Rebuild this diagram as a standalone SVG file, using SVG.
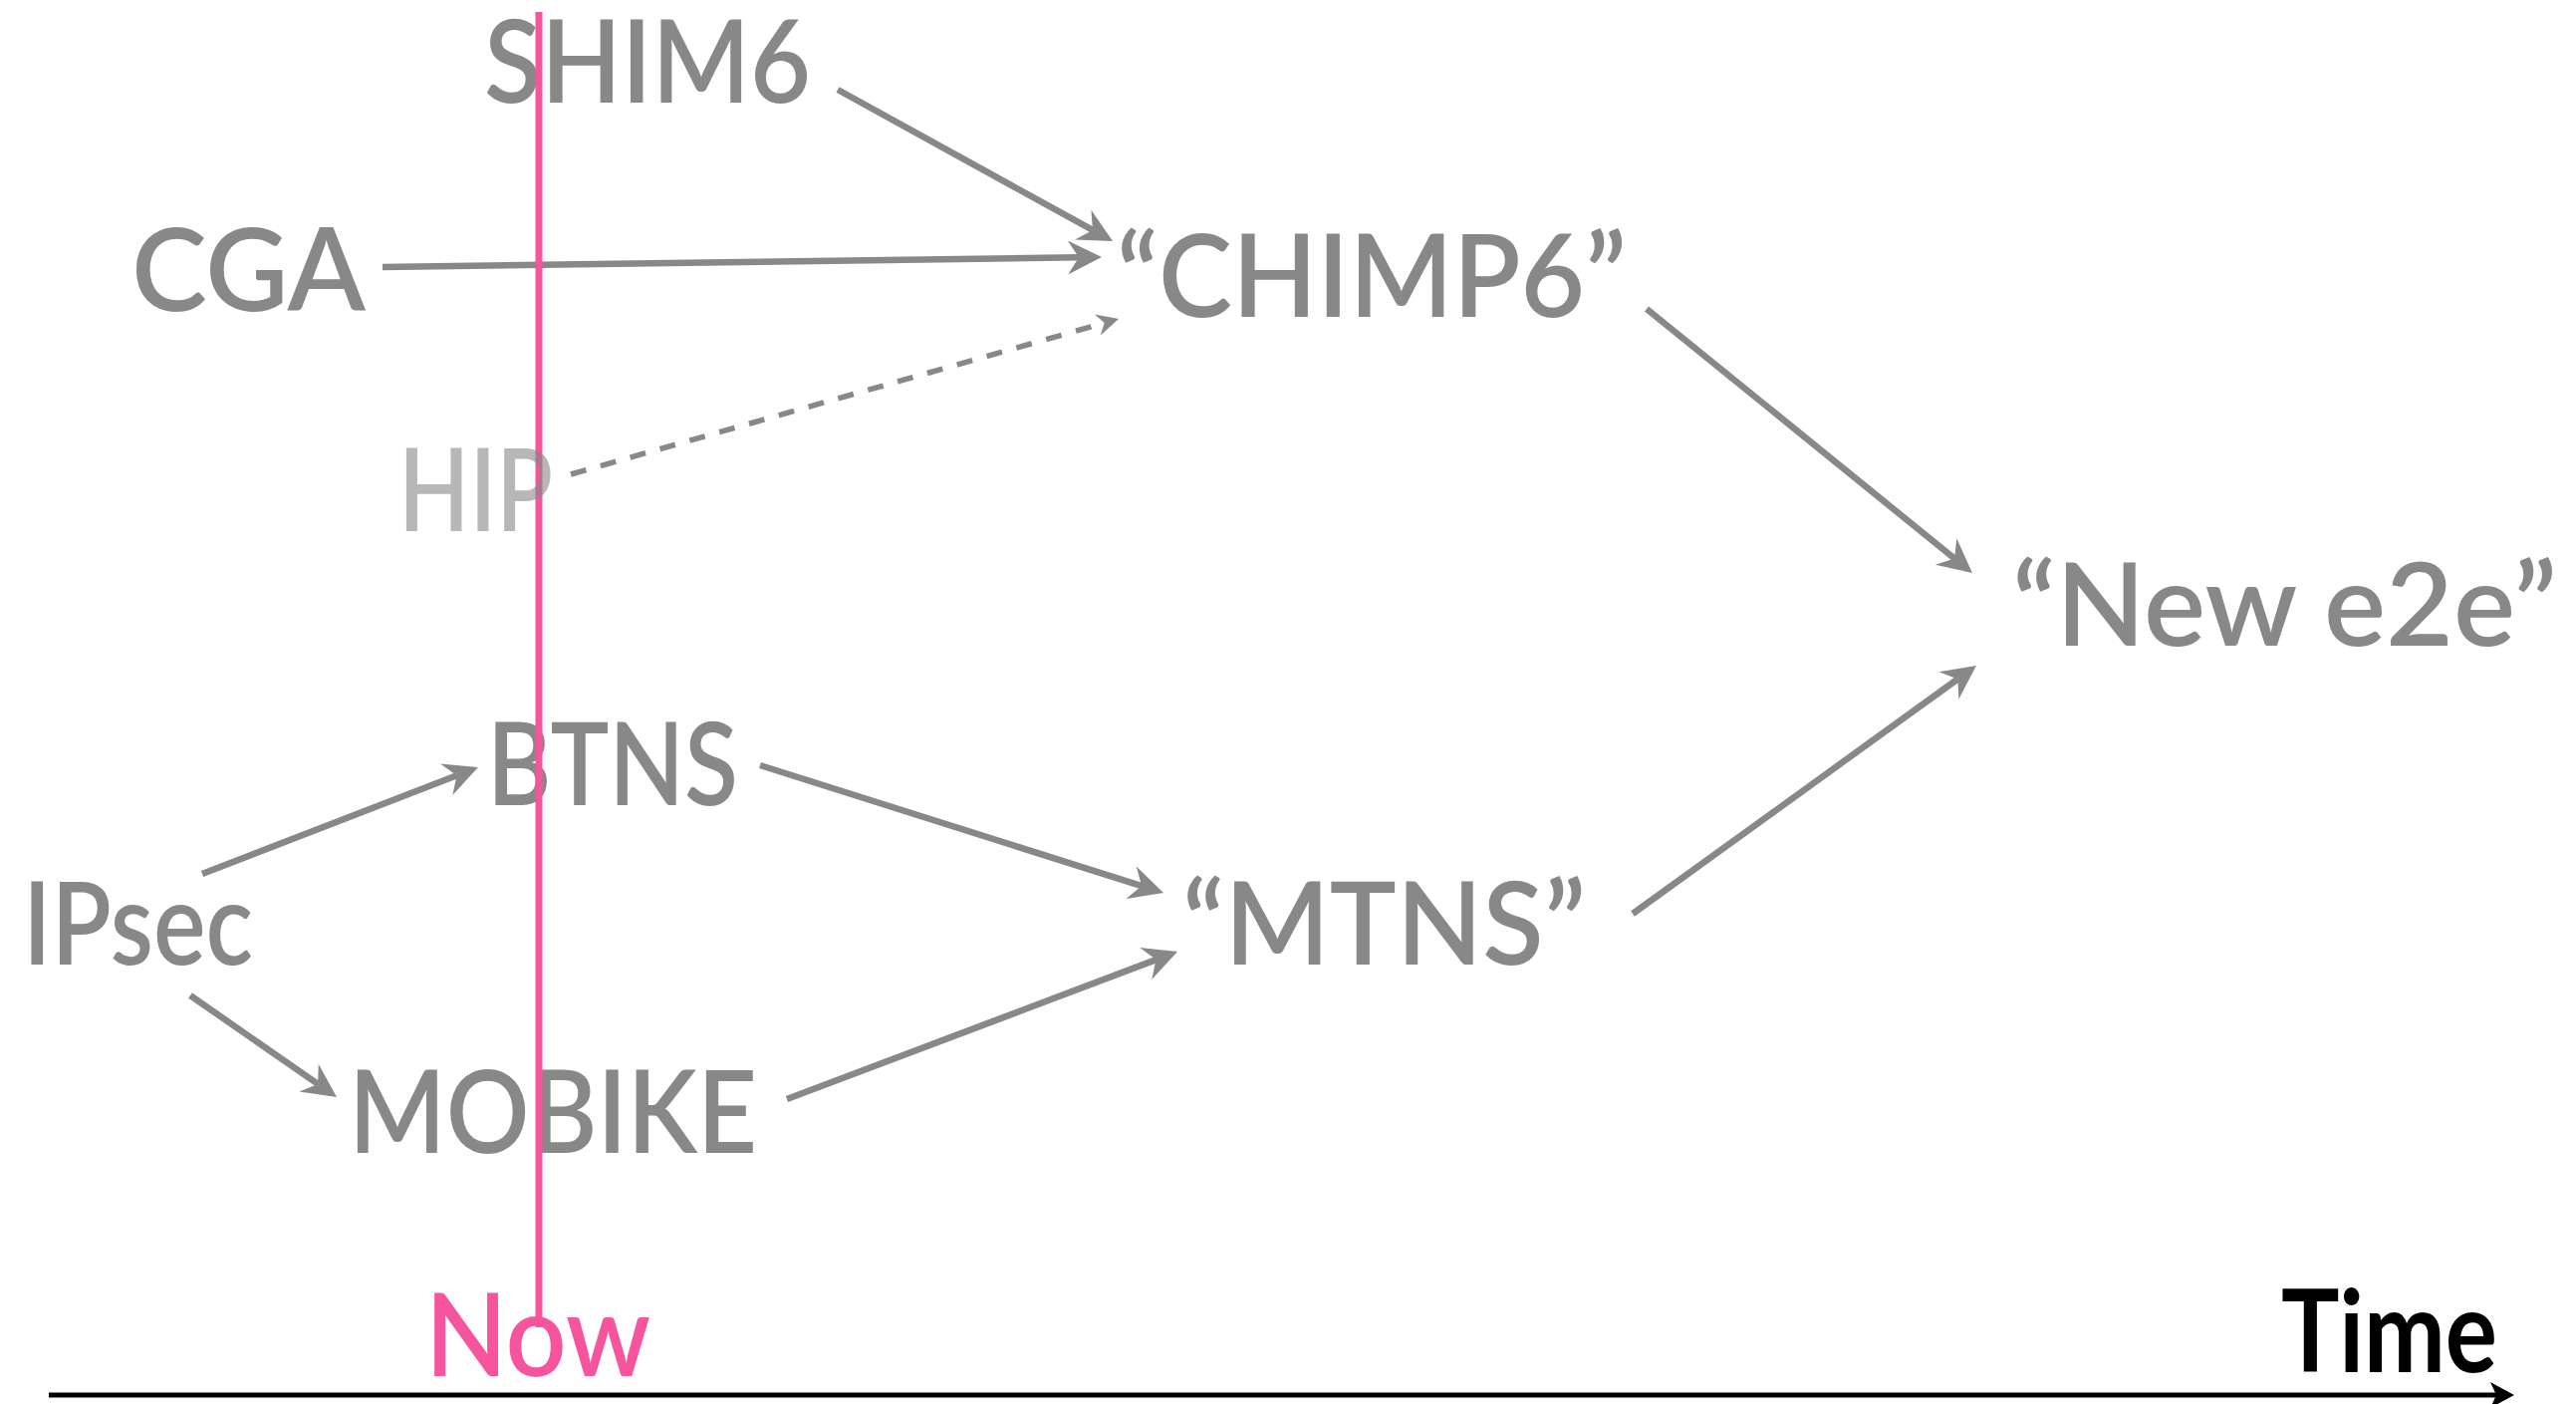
<svg xmlns="http://www.w3.org/2000/svg" width="2586" height="1409" viewBox="0 0 2586 1409">
<style>
.lbl{font-family:Lato,"Liberation Sans",sans-serif;font-size:115px;font-weight:600;fill:#888888;}
.conn{stroke:#888888;stroke-width:6.5;fill:none;}
.dash{stroke-dasharray:16 15;stroke-width:5.5;}
</style>
<defs>
<marker id="ah" markerUnits="userSpaceOnUse" viewBox="-12 -18 36 36" refX="0" refY="0" markerWidth="36" markerHeight="36" orient="auto" overflow="visible">
<path d="M23,0 L-11,-17 L0,0 L-11,17 Z" fill="#888888"/>
</marker>
<marker id="ahs" markerUnits="userSpaceOnUse" viewBox="-8 -12 24 24" refX="0" refY="0" markerWidth="24" markerHeight="24" orient="auto" overflow="visible">
<path d="M15,0 L-7,-11 L0,0 L-7,11 Z" fill="#888888"/>
</marker>
<marker id="axh" markerUnits="userSpaceOnUse" viewBox="-7 -14 26 28" refX="0" refY="0" markerWidth="26" markerHeight="28" orient="auto" overflow="visible">
<path d="M18,0 L-6,-13 L0,0 L-6,13 Z" fill="#000000"/>
</marker>
</defs>
<rect width="2586" height="1409" fill="#ffffff"/>
<g id="connectors">
<line class="conn" x1="841" y1="90" x2="1096.9" y2="230.9" marker-end="url(#ah)"/>
<line class="conn" x1="384" y1="268" x2="1083" y2="258.3" marker-end="url(#ah)"/>
<line class="conn dash" x1="573" y1="476" x2="1108.6" y2="324.1" marker-end="url(#ahs)"/>
<line class="conn" x1="1653" y1="310" x2="1962.1" y2="560.5" marker-end="url(#ah)"/>
<line class="conn" x1="1639" y1="917" x2="1965.3" y2="681.5" marker-end="url(#ah)"/>
<line class="conn" x1="763" y1="768" x2="1146.1" y2="889.1" marker-end="url(#ah)"/>
<line class="conn" x1="790" y1="1103" x2="1160.5" y2="963.1" marker-end="url(#ah)"/>
<line class="conn" x1="203" y1="877" x2="458.5" y2="778.3" marker-end="url(#ah)"/>
<line class="conn" x1="191" y1="999" x2="319.1" y2="1087.9" marker-end="url(#ah)"/>
</g>
<g id="time-axis">
<line x1="49" y1="1400" x2="2506" y2="1400" stroke="#000000" stroke-width="5" marker-end="url(#axh)"/>
<text x="2290" y="1377" textLength="217" lengthAdjust="spacingAndGlyphs" style="font-family:Lato,'Liberation Sans',sans-serif;font-size:115px;font-weight:700;fill:#000000">Time</text>
</g>
<g id="node-shim6"><text class="lbl" x="486" y="103" textLength="328" lengthAdjust="spacingAndGlyphs">SHIM6</text></g>
<g id="node-cga"><text class="lbl" x="132" y="312" textLength="235" lengthAdjust="spacingAndGlyphs">CGA</text></g>
<g id="node-chimp6"><text class="lbl" x="1121" y="318" textLength="512" lengthAdjust="spacingAndGlyphs">“CHIMP6”</text></g>
<g id="node-newe2e"><text class="lbl" x="2020" y="648" textLength="547" lengthAdjust="spacingAndGlyphs">“New e2e”</text></g>
<g id="node-btns"><text class="lbl" x="489" y="808" textLength="252" lengthAdjust="spacingAndGlyphs">BTNS</text></g>
<g id="node-ipsec"><text class="lbl" x="23" y="968" textLength="231" lengthAdjust="spacingAndGlyphs">IPsec</text></g>
<g id="node-mtns"><text class="lbl" x="1187" y="968" textLength="405" lengthAdjust="spacingAndGlyphs">“MTNS”</text></g>
<g id="node-mobike"><text class="lbl" x="350" y="1157" textLength="410" lengthAdjust="spacingAndGlyphs">MOBIKE</text></g>
<g id="now-marker">
<text x="427" y="1381" textLength="226" lengthAdjust="spacingAndGlyphs" style="font-family:Lato,'Liberation Sans',sans-serif;font-size:115px;font-weight:600;fill:#F6559E">Now</text>
<line x1="541" y1="12" x2="541" y2="1332" stroke="#F6559E" stroke-width="7"/>
</g>
<g id="node-hip"><text class="lbl" x="400" y="533" textLength="155" lengthAdjust="spacingAndGlyphs" opacity="0.6">HIP</text></g>
</svg>
